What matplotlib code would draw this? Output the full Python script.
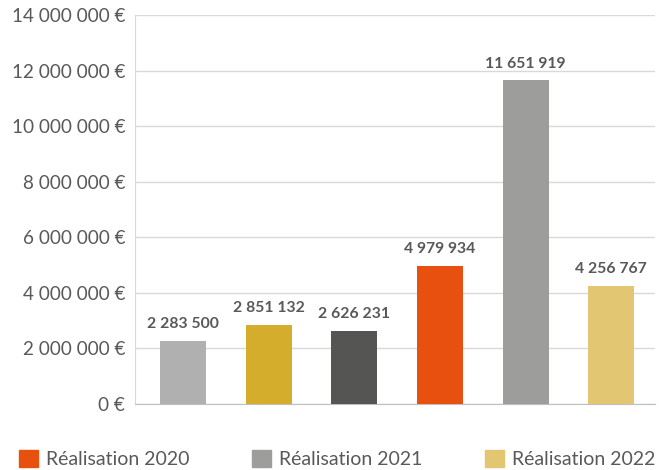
import numpy as np
import matplotlib.pyplot as plt
from matplotlib.patches import Patch
from matplotlib.ticker import FuncFormatter

plt.rcParams['font.family'] = ['Lato', 'DejaVu Sans']

# Data
values = [2283500, 2851132, 2626231, 4979934, 11651919, 4256767]
colors = ['#b0b0b0', '#d5ad2d', '#555553', '#e8500f', '#9d9d9c', '#e2c672']
legend_labels = ['Réalisation 2020', 'Réalisation 2021', 'Réalisation 2022']
legend_colors = ['#e8500f', '#9d9d9c', '#e2c672']

text_col = '#595959'
grid_col = '#d9d9d9'


def fmt_space(v):
    return f'{int(v):,}'.replace(',', ' ')


fig = plt.figure(figsize=(6.68, 4.70), dpi=100)
ax = fig.add_axes([135 / 668, 1 - 404 / 470, 520 / 668, 389 / 470])

x = np.arange(len(values))
ax.bar(x, values, width=0.54, color=colors, zorder=3)

for xi, v in zip(x, values):
    ax.annotate(fmt_space(v), (xi, v), xytext=(0, 7), textcoords='offset points',
                ha='center', va='bottom', fontsize=11.3, fontweight='bold', color=text_col)

ax.set_xlim(-0.56, 5.51)
ax.set_ylim(0, 14000000)
ax.set_yticks(np.arange(0, 14000001, 2000000))
ax.yaxis.set_major_formatter(FuncFormatter(lambda v, p: fmt_space(v) + ' €'))
ax.set_xticks([])
ax.tick_params(axis='y', length=0, pad=7, labelsize=13.6, labelcolor=text_col)

ax.grid(axis='y', color=grid_col, linewidth=1, zorder=0)
for s in ['top', 'right']:
    ax.spines[s].set_visible(False)
ax.spines['left'].set_color(grid_col)
ax.spines['bottom'].set_color('#bfbfbf')

handles = [Patch(color=c) for c in legend_colors]
fig.legend(handles, legend_labels, loc='center', bbox_to_anchor=(337 / 668, 1 - 459 / 470),
           ncol=3, frameon=False, fontsize=14, labelcolor=text_col,
           handlelength=1.0, handleheight=1.0, columnspacing=3.2, handletextpad=0.4,
           borderpad=0, borderaxespad=0)

fig.savefig('out.png', dpi=100)
